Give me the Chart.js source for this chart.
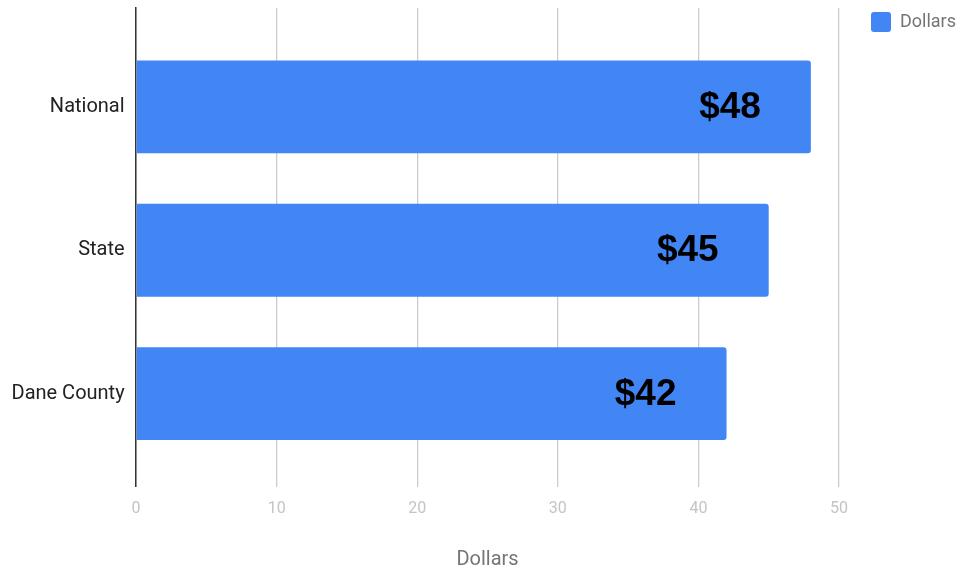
<!DOCTYPE html>
<html>
<head>
<meta charset="utf-8">
<script src="https://cdn.jsdelivr.net/npm/chart.js@4"></script>
<style>
  body { margin: 0; background: #fff; }
  #wrap { width: 966px; height: 570px; }
</style>
</head>
<body>
<div id="wrap"><canvas id="barChart"></canvas></div>
<script>
// data
const categories = ['National', 'State', 'Dane County'];
const dollars = [48, 45, 42];
const xTicks = [0, 10, 20, 30, 40, 50];

// draws "$48" etc inside the end of each bar
const valueLabels = {
    id: 'valueLabels',
    afterDatasetsDraw(chart) {
        const ctx = chart.ctx;
        ctx.save();
        ctx.font = 'bold 37px "Liberation Sans", Arial, sans-serif';
        ctx.fillStyle = '#000';
        ctx.textAlign = 'right';
        ctx.textBaseline = 'middle';
        chart.getDatasetMeta(0).data.forEach((bar, i) => {
            ctx.fillText('$' + dollars[i], bar.x - 50, bar.y + 1);
        });
        ctx.restore();
    }
};

const barChart = document.getElementById('barChart').getContext('2d');
new Chart(barChart, {
    type: 'bar',
    data: {
        datasets: [{
            label: 'Dollars',
            data: dollars.map((v, i) => ({ x: v, y: i })),
            backgroundColor: '#4285F4',
            borderRadius: { topRight: 3, bottomRight: 3 },
            borderSkipped: 'start',
            categoryPercentage: 0.72,
            barPercentage: 0.9
        }]
    },
    options: {
        indexAxis: 'y',
        responsive: true,
        maintainAspectRatio: false,
        animation: false,
        layout: { padding: { top: 2, left: 0, right: 0, bottom: 0 } },
        scales: {
            x: {
                type: 'linear',
                min: 0,
                max: 50,
                afterBuildTicks: s => { s.ticks = xTicks.map(v => ({ value: v })); },
                grid: { color: '#cccccc', lineWidth: 1.3, drawTicks: false },
                border: { display: false },
                ticks: {
                    padding: 13,
                    color: '#c4c4c4',
                    font: { family: 'Roboto', size: 16 }
                },
                title: {
                    display: true,
                    text: 'Dollars',
                    color: '#757575',
                    font: { family: 'Roboto', size: 20, lineHeight: 1 },
                    padding: { top: 18, bottom: 0 }
                }
            },
            y: {
                type: 'linear',
                reverse: true,
                offset: false,
                min: -0.69,
                max: 2.65,
                afterBuildTicks: s => { s.ticks = categories.map((c, i) => ({ value: i })); },
                afterFit: s => { s.paddingTop = 8; },
                grid: { display: false, drawTicks: false },
                border: { display: true, color: '#333333', width: 1.5 },
                ticks: {
                    padding: 11.5,
                    color: '#222222',
                    font: { family: 'Roboto', size: 20 },
                    callback: v => categories[v] ?? ''
                }
            },
            // empty strip between the plot and the legend
            gap: {
                type: 'linear',
                position: 'right',
                display: true,
                grid: { display: false, drawTicks: false },
                border: { display: false },
                ticks: { display: false },
                afterFit: s => { s.width = 22; }
            }
        },
        plugins: {
            legend: {
                display: true,
                position: 'right',
                align: 'start',
                labels: {
                    boxWidth: 20,
                    boxHeight: 20,
                    useBorderRadius: true,
                    borderRadius: 3,
                    padding: 10,
                    color: '#757575',
                    font: { family: 'Roboto', size: 18 }
                }
            },
            tooltip: { enabled: false }
        }
    },
    plugins: [valueLabels]
});
</script>
</body>
</html>
